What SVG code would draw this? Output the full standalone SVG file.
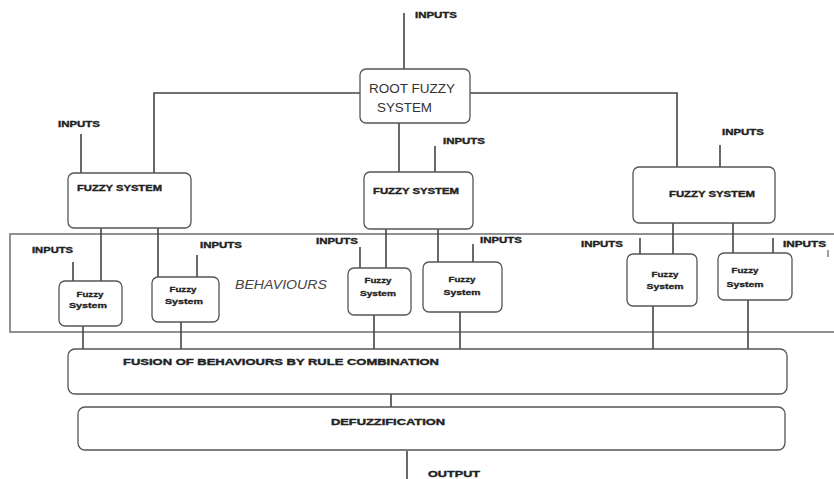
<svg xmlns="http://www.w3.org/2000/svg" width="834" height="479" viewBox="0 0 834 479">
<style>
.box{fill:#fff;stroke:#555;stroke-width:1.3}
.ln{stroke:#444;stroke-width:1.6;fill:none}
.b{font-family:"Liberation Sans",Arial,sans-serif;font-weight:bold;fill:#222;stroke:#222;stroke-width:0.35;font-size:8.5px}
.s{font-family:"Liberation Sans",Arial,sans-serif;font-weight:bold;fill:#222;stroke:#222;stroke-width:0.3;font-size:7.5px}
.r{font-family:"Liberation Sans",Arial,sans-serif;fill:#333;font-size:13.5px}
</style>
<rect width="834" height="479" fill="#fff"/>
<g id="behaviours">
<rect x="10" y="234" width="830" height="98" fill="none" stroke="#777" stroke-width="1.6"/>
<text x="235" y="289" font-family="Liberation Sans,Arial,sans-serif" font-style="italic" font-size="13.5" fill="#444" textLength="92" lengthAdjust="spacingAndGlyphs">BEHAVIOURS</text>
</g>
<g id="connectors">
<line class="ln" x1="404" y1="13" x2="404" y2="69"/>
<polyline class="ln" points="154,173 154,93 360,93"/>
<polyline class="ln" points="470,93 677,93 677,167"/>
<line class="ln" x1="399" y1="123" x2="399" y2="172"/>
<line class="ln" x1="81" y1="134" x2="81" y2="173"/>
<line class="ln" x1="435" y1="146" x2="435" y2="172"/>
<line class="ln" x1="720" y1="145" x2="720" y2="167"/>
<line class="ln" x1="101" y1="228" x2="101" y2="281"/>
<line class="ln" x1="158" y1="228" x2="158" y2="277"/>
<line class="ln" x1="386" y1="229" x2="386" y2="268"/>
<line class="ln" x1="438" y1="229" x2="438" y2="262"/>
<line class="ln" x1="673" y1="223" x2="673" y2="254"/>
<line class="ln" x1="733" y1="223" x2="733" y2="253"/>
<line class="ln" x1="73" y1="262" x2="73" y2="281"/>
<line class="ln" x1="197" y1="255" x2="197" y2="277"/>
<line class="ln" x1="360" y1="247" x2="360" y2="268"/>
<line class="ln" x1="473" y1="244" x2="473" y2="262"/>
<line class="ln" x1="640" y1="238" x2="640" y2="254"/>
<line class="ln" x1="773" y1="238" x2="773" y2="253"/>
<line class="ln" x1="83" y1="326" x2="83" y2="349"/>
<line class="ln" x1="181" y1="322" x2="181" y2="349"/>
<line class="ln" x1="374" y1="315" x2="374" y2="349"/>
<line class="ln" x1="460" y1="312" x2="460" y2="349"/>
<line class="ln" x1="653" y1="306" x2="653" y2="349"/>
<line class="ln" x1="748" y1="300" x2="748" y2="349"/>
<line class="ln" x1="391" y1="394" x2="391" y2="407"/>
<line class="ln" x1="407" y1="451" x2="407" y2="479"/>
<line x1="828" y1="250" x2="828" y2="257" stroke="#444" stroke-width="1"/>
</g>
<g id="root">
<rect class="box" x="360" y="69" width="110" height="54" rx="6"/>
<text class="r" x="369" y="93" textLength="86" lengthAdjust="spacingAndGlyphs">ROOT FUZZY</text>
<text class="r" x="377" y="112" textLength="55" lengthAdjust="spacingAndGlyphs">SYSTEM</text>
<text class="b" x="415" y="18" textLength="42" lengthAdjust="spacingAndGlyphs">INPUTS</text>
</g>
<g id="fs-left">
<rect class="box" x="68" y="173" width="123" height="55" rx="6"/>
<text class="b" x="77" y="191" textLength="85" lengthAdjust="spacingAndGlyphs">FUZZY SYSTEM</text>
<text class="b" x="58" y="127" textLength="42" lengthAdjust="spacingAndGlyphs">INPUTS</text>
</g>
<g id="fs-mid">
<rect class="box" x="364" y="172" width="109" height="57" rx="6"/>
<text class="b" x="373" y="194" textLength="86" lengthAdjust="spacingAndGlyphs">FUZZY SYSTEM</text>
<text class="b" x="443" y="144" textLength="42" lengthAdjust="spacingAndGlyphs">INPUTS</text>
</g>
<g id="fs-right">
<rect class="box" x="633" y="167" width="142" height="56" rx="6"/>
<text class="b" x="669" y="197" textLength="86" lengthAdjust="spacingAndGlyphs">FUZZY SYSTEM</text>
<text class="b" x="722" y="135" textLength="42" lengthAdjust="spacingAndGlyphs">INPUTS</text>
</g>
<g id="b1">
<rect class="box" x="59" y="281" width="63" height="45" rx="6"/>
<text class="s" x="90" y="297" text-anchor="middle" textLength="27" lengthAdjust="spacingAndGlyphs">Fuzzy</text>
<text class="s" x="88" y="308" text-anchor="middle" textLength="38" lengthAdjust="spacingAndGlyphs">System</text>
<text class="b" x="32" y="253" textLength="41" lengthAdjust="spacingAndGlyphs">INPUTS</text>
</g>
<g id="b2">
<rect class="box" x="152" y="277" width="67" height="45" rx="6"/>
<text class="s" x="183" y="292" text-anchor="middle" textLength="27" lengthAdjust="spacingAndGlyphs">Fuzzy</text>
<text class="s" x="184" y="304" text-anchor="middle" textLength="38" lengthAdjust="spacingAndGlyphs">System</text>
<text class="b" x="200" y="248" textLength="42" lengthAdjust="spacingAndGlyphs">INPUTS</text>
</g>
<g id="b3">
<rect class="box" x="348" y="268" width="63" height="47" rx="6"/>
<text class="s" x="378" y="283" text-anchor="middle" textLength="27" lengthAdjust="spacingAndGlyphs">Fuzzy</text>
<text class="s" x="378" y="296" text-anchor="middle" textLength="36" lengthAdjust="spacingAndGlyphs">System</text>
<text class="b" x="316" y="244" textLength="42" lengthAdjust="spacingAndGlyphs">INPUTS</text>
</g>
<g id="b4">
<rect class="box" x="423" y="262" width="79" height="50" rx="6"/>
<text class="s" x="462" y="282" text-anchor="middle" textLength="27" lengthAdjust="spacingAndGlyphs">Fuzzy</text>
<text class="s" x="462" y="295" text-anchor="middle" textLength="37" lengthAdjust="spacingAndGlyphs">System</text>
<text class="b" x="480" y="243" textLength="42" lengthAdjust="spacingAndGlyphs">INPUTS</text>
</g>
<g id="b5">
<rect class="box" x="627" y="254" width="70" height="52" rx="6"/>
<text class="s" x="665" y="277" text-anchor="middle" textLength="27" lengthAdjust="spacingAndGlyphs">Fuzzy</text>
<text class="s" x="665" y="289" text-anchor="middle" textLength="37" lengthAdjust="spacingAndGlyphs">System</text>
<text class="b" x="581" y="247" textLength="42" lengthAdjust="spacingAndGlyphs">INPUTS</text>
</g>
<g id="b6">
<rect class="box" x="718" y="253" width="74" height="47" rx="6"/>
<text class="s" x="745" y="273" text-anchor="middle" textLength="27" lengthAdjust="spacingAndGlyphs">Fuzzy</text>
<text class="s" x="745" y="287" text-anchor="middle" textLength="37" lengthAdjust="spacingAndGlyphs">System</text>
<text class="b" x="783" y="247" textLength="43" lengthAdjust="spacingAndGlyphs">INPUTS</text>
</g>
<g id="fusion">
<rect class="box" x="68" y="349" width="719" height="45" rx="7"/>
<text class="b" x="123" y="365" textLength="316" lengthAdjust="spacingAndGlyphs">FUSION OF BEHAVIOURS BY RULE COMBINATION</text>
</g>
<g id="defuzz">
<rect class="box" x="78" y="407" width="707" height="43" rx="7"/>
<text class="b" x="331" y="425" textLength="114" lengthAdjust="spacingAndGlyphs">DEFUZZIFICATION</text>
</g>
<g id="output">
<text class="b" x="428" y="477" textLength="52" lengthAdjust="spacingAndGlyphs">OUTPUT</text>
</g>
</svg>
